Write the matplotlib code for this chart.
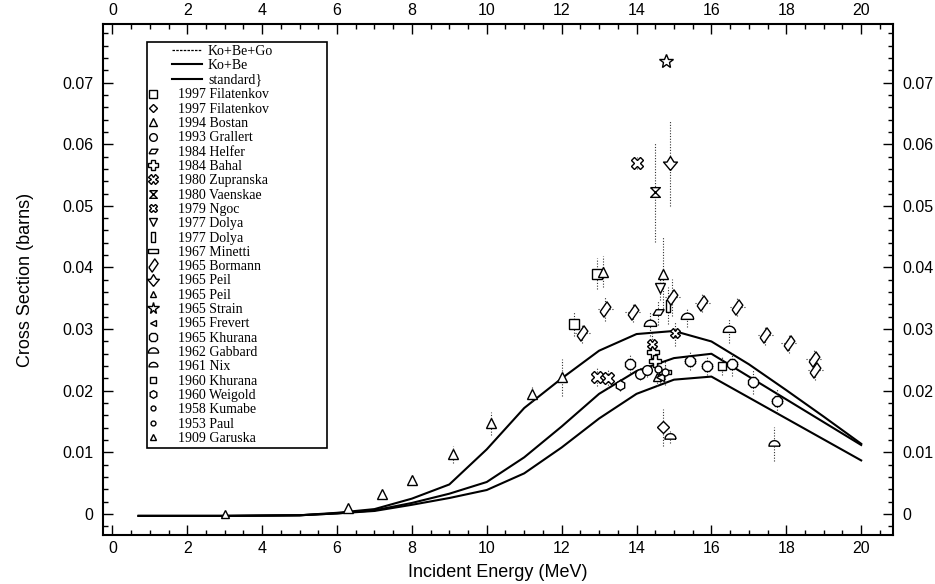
import numpy as np
import matplotlib
matplotlib.use("Agg")
import matplotlib.pyplot as plt
from matplotlib.lines import Line2D
from matplotlib.patches import Rectangle

# ---------------- data ----------------
energy_curve = [0.7, 3, 5, 6, 7, 8, 9, 10, 11, 12, 13, 14, 15, 16, 17, 18, 19, 20]
ko_be_go = [-0.0003, -0.0003, -0.0002, 0.0002, 0.0008, 0.0025, 0.0048, 0.0105, 0.0172, 0.0220,
            0.0265, 0.0292, 0.0297, 0.0280, 0.0243, 0.0201, 0.0158, 0.0114]
ko_be = [-0.0003, -0.0003, -0.0002, 0.0001, 0.0006, 0.0018, 0.0033, 0.0052, 0.0092, 0.0142,
         0.0195, 0.0232, 0.0253, 0.0260, 0.0223, 0.0186, 0.0149, 0.0112]
standard = [-0.0003, -0.0003, -0.0002, 0.0001, 0.0005, 0.0015, 0.0026, 0.0039, 0.0066, 0.0108,
            0.0155, 0.0195, 0.0218, 0.0223, 0.0189, 0.0155, 0.0121, 0.0087]
curve_labels = ["Ko+Be+Go", "Ko+Be", "standard}"]

labels = ["1997 Filatenkov", "1997 Filatenkov", "1994 Bostan", "1993 Grallert", "1984 Helfer",
          "1984 Bahal", "1980 Zupranska", "1980 Vaenskae", "1979 Ngoc", "1977 Dolya", "1977 Dolya",
          "1967 Minetti", "1965 Bormann", "1965 Peil", "1965 Peil", "1965 Strain", "1965 Frevert",
          "1965 Khurana", "1962 Gabbard", "1961 Nix", "1960 Khurana", "1960 Weigold",
          "1958 Kumabe", "1953 Paul", "1909 Garuska"]

x_fil1 = [12.32, 12.95];  y_fil1 = [0.0309, 0.0390];  e_fil1 = [0.002, 0.0025]
x_fil2 = [14.70];         y_fil2 = [0.0141];          e_fil2 = [0.003]
x_bos = [6.3, 7.2, 8.0, 9.1, 10.1, 11.2, 12.0, 13.11, 14.71]
y_bos = [0.0010, 0.0033, 0.0055, 0.0097, 0.0147, 0.0195, 0.0222, 0.0393, 0.0390]
e_bos = [0.0002, 0.0003, 0.0003, 0.0014, 0.0018, 0.0013, 0.0030, 0.0025, 0.0060]
x_gra = [14.10, 14.28];   y_gra = [0.0228, 0.0233];   e_gra = [0.0010, 0.0010]
x_hel = [14.58];          y_hel = [0.0327];           e_hel = [0.0020]
x_bah = [14.45, 14.50];   y_bah = [0.0263, 0.0249];   e_bah = [0.0015, 0.0015]
x_zup = [14.0, 12.95, 13.24]; y_zup = [0.0570, 0.0222, 0.0220]; e_zup = [0.0010, 0.0015, 0.0015]
x_vae = [14.50];          y_vae = [0.0522];           e_vae = [0.0080]
x_ngo = [14.41, 15.03];   y_ngo = [0.0276, 0.0293];   e_ngo = [0.0020, 0.0020]
x_dol1 = [14.63];         y_dol1 = [0.0367];          e_dol1 = [0.0020]
x_dol2 = [14.85];         y_dol2 = [0.0338];          e_dol2 = [0.0030]
x_min = [14.77];          y_min = [0.0230];           e_min = [0.0020]
x_bor = [12.55, 13.16, 13.90, 14.95, 15.75, 16.69, 17.44, 18.06, 18.73, 18.77]
y_bor = [0.0293, 0.0333, 0.0327, 0.0352, 0.0343, 0.0336, 0.0290, 0.0277, 0.0252, 0.0233]
e_bor = [0.0015, 0.0020, 0.0015, 0.0030, 0.0015, 0.0015, 0.0015, 0.0015, 0.0015, 0.0015]
x_pei1 = [14.90];         y_pei1 = [0.0570];          e_pei1 = [0.0070]
x_pei2 = [14.55];         y_pei2 = [0.0222];          e_pei2 = [0.0015]
x_str = [14.80];          y_str = [0.0735];           e_str = [0.0005]
x_fre = [14.63];          y_fre = [0.0222];           e_fre = [0.0010]
x_khu = [13.83, 15.43, 15.88, 16.55, 17.12, 17.75]
y_khu = [0.0244, 0.0249, 0.0240, 0.0244, 0.0214, 0.0184]
e_khu = [0.0015, 0.0015, 0.0015, 0.0020, 0.0020, 0.0020]
x_gab = [14.37, 15.35, 16.46]; y_gab = [0.0309, 0.0319, 0.0298]; e_gab = [0.0020, 0.0015, 0.0020]
x_nix = [14.90, 17.66];   y_nix = [0.0125, 0.0114];   e_nix = [0.0010, 0.0028]
x_kh60 = [16.28];         y_kh60 = [0.0240];          e_kh60 = [0.0015]
x_wei = [13.56];          y_wei = [0.0210];           e_wei = [0.0010]
x_kum = [14.58];          y_kum = [0.0236];           e_kum = [0.0010]
x_pau = [14.77];          y_pau = [0.0230];           e_pau = [0.0010]
x_gar = [3.0];            y_gar = [0.0000];           e_gar = [0.0002]

xticks = [0, 2, 4, 6, 8, 10, 12, 14, 16, 18, 20]
yticks = [0, 0.01, 0.02, 0.03, 0.04, 0.05, 0.06, 0.07]
ytick_labels = ["0", "0.01", "0.02", "0.03", "0.04", "0.05", "0.06", "0.07"]

# ---------------- marker shapes ----------------
t = np.linspace(0, np.pi, 9)
half_disk = [(np.cos(a), np.sin(a) - 0.3) for a in t] + [(-1, -0.3), (1, -0.3)]
m_para = [(-1, -0.5), (0.4, -0.5), (1, 0.5), (-0.4, 0.5), (-1, -0.5)]
m_bor = [(-0.7, -0.3), (0.2, 1), (0.7, 0.3), (-0.2, -1), (-0.7, -0.3)]
m_hour = [(-1, 1), (1, 1), (-1, -1), (1, -1), (-1, 1)]
m_rect_v = [(-0.35, -1), (0.35, -1), (0.35, 1), (-0.35, 1), (-0.35, -1)]
m_rect_h = [(-1, -0.35), (1, -0.35), (1, 0.35), (-1, 0.35), (-1, -0.35)]
m_peil = [(0, -1), (1, 0.2), (0.5, 0.2), (0, 1), (-0.5, 0.2), (-1, 0.2), (0, -1)]

sets = [
    (x_fil1, y_fil1, e_fil1, "s", 7, 0),
    (x_fil2, y_fil2, e_fil2, "D", 6, 0),
    (x_bos, y_bos, e_bos, "^", 7, 0),
    (x_gra, y_gra, e_gra, "o", 7, 0),
    (x_hel, y_hel, e_hel, m_para, 8, 0),
    (x_bah, y_bah, e_bah, "P", 8, 0),
    (x_zup, y_zup, e_zup, "X", 8, 0),
    (x_vae, y_vae, e_vae, m_hour, 7, 0),
    (x_ngo, y_ngo, e_ngo, "X", 7, 0),
    (x_dol1, y_dol1, e_dol1, "v", 7, 0),
    (x_dol2, y_dol2, e_dol2, m_rect_v, 8, 0),
    (x_min, y_min, e_min, m_rect_h, 8, 0),
    (x_bor, y_bor, e_bor, m_bor, 11, 0.2),
    (x_pei1, y_pei1, e_pei1, m_peil, 10, 0),
    (x_pei2, y_pei2, e_pei2, "^", 6, 0),
    (x_str, y_str, e_str, "*", 10, 0),
    (x_fre, y_fre, e_fre, "<", 6, 0),
    (x_khu, y_khu, e_khu, "8", 8, 0.15),
    (x_gab, y_gab, e_gab, half_disk, 9, 0),
    (x_nix, y_nix, e_nix, half_disk, 8, 0),
    (x_kh60, y_kh60, e_kh60, "s", 6, 0),
    (x_wei, y_wei, e_wei, "h", 7, 0),
    (x_kum, y_kum, e_kum, "o", 5, 0),
    (x_pau, y_pau, e_pau, "o", 5, 0),
    (x_gar, y_gar, e_gar, "^", 6, 0),
]

# ---------------- plot ----------------
sans = ["Liberation Sans", "DejaVu Sans"]
serif = ["Liberation Serif", "DejaVu Serif"]
W, H = 935, 584
L, R, T, B = 103, 893, 24, 535
fig = plt.figure(figsize=(W / 100, H / 100), dpi=100)
ax = fig.add_axes([L / W, 1 - B / H, (R - L) / W, (B - T) / H])


def ax_frac(px, py):
    return (px - L) / (R - L), (B - py) / (B - T)


for yy in (ko_be_go, ko_be, standard):
    ax.plot(energy_curve, yy, color="black", lw=1.5, zorder=2)
curve_handles = [
    Line2D([], [], color="black", lw=0.9, ls=(0, (2, 1))),
    Line2D([], [], color="black", lw=1.5),
    Line2D([], [], color="black", lw=1.5),
]

mark_handles = []
for (xs, ys, es, mk, ms, xe) in sets:
    cont = ax.errorbar(xs, ys, yerr=es, xerr=(xe if xe else None), fmt="none",
                       ecolor="#333333", elinewidth=0.8, capsize=0, zorder=3)
    for lc in cont[2]:
        lc.set_linestyle((0, (1, 1.5)))
    ax.plot(xs, ys, ls="none", marker=mk, ms=ms, mfc="white", mec="black", mew=1.0, zorder=4)
    mark_handles.append(Line2D([], [], ls="none", marker=mk, ms=ms - 1.5, mfc="white",
                               mec="black", mew=1.0))

ax.set_xlim(-0.25, 20.85)
ax.set_ylim(-0.0034, 0.0795)
ax.set_xticks(xticks)
ax.set_xticklabels([str(v) for v in xticks])
ax.set_yticks(yticks)
ax.set_yticklabels(ytick_labels)
ax.set_xticks(np.arange(0, 20.51, 0.5), minor=True)
ax.set_yticks(np.arange(-0.002, 0.079, 0.002), minor=True)
ax.tick_params(which="both", direction="in", top=True, right=True, labeltop=True,
               labelright=True, width=1.0)
ax.tick_params(which="major", length=7)
ax.tick_params(which="minor", length=3.5)
ax.tick_params(axis="y", pad=7)
ax.tick_params(axis="x", pad=4)
for lab in ax.get_xticklabels(which="both") + ax.get_yticklabels(which="both"):
    lab.set_fontfamily(sans)
    lab.set_fontsize(11.5)
for s in ax.spines.values():
    s.set_linewidth(1.5)

ax.set_xlabel("Incident Energy (MeV)", fontfamily=sans, fontsize=13, labelpad=6)
ax.set_ylabel("Cross Section (barns)", fontfamily=sans, fontsize=13, labelpad=20)

# legend: frame + two stacked legends (lines, then markers)
fs = 10
px_per_fs = fs * 100 / 72
row = 14.5
lsp = 0.094
fx0, fy0 = ax_frac(147, 448)
fx1, fy1 = ax_frac(327, 42)
ax.add_patch(Rectangle((fx0, fy0), fx1 - fx0, fy1 - fy0, transform=ax.transAxes,
                       fill=False, edgecolor="black", lw=1.2, zorder=5))

lx, ly = ax_frac(172, 45)
leg1 = ax.legend(curve_handles, curve_labels, loc="upper left", bbox_to_anchor=(lx, ly),
                 prop={"family": serif, "size": fs}, frameon=False,
                 handlelength=30 / px_per_fs, handletextpad=6 / px_per_fs,
                 labelspacing=lsp, borderpad=0, borderaxespad=0)
ax.add_artist(leg1)
mx, my = ax_frac(141, 45 + 3 * row)
leg2 = ax.legend(mark_handles, labels, loc="upper left", bbox_to_anchor=(mx, my),
                 prop={"family": serif, "size": fs}, frameon=False,
                 handlelength=24 / px_per_fs, handletextpad=13 / px_per_fs,
                 labelspacing=lsp, borderpad=0, borderaxespad=0)
leg1.set_zorder(6)
leg2.set_zorder(6)

fig.savefig("out.png", dpi=100)
